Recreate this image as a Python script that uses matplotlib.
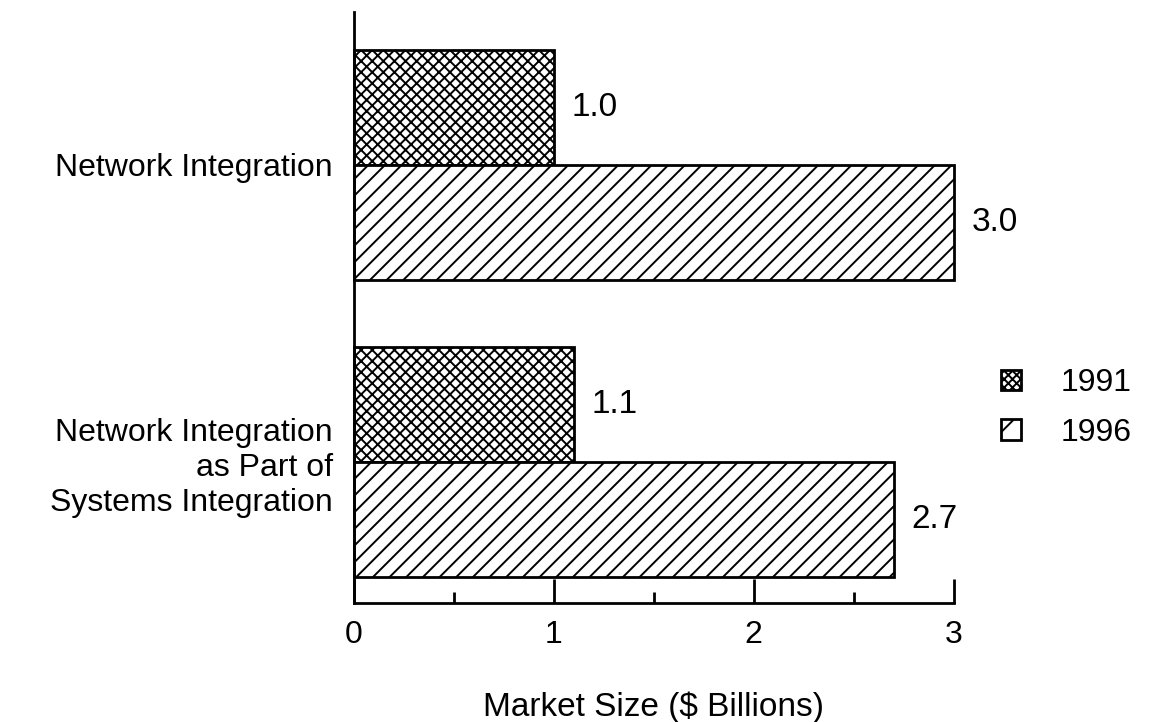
import matplotlib
matplotlib.use("Agg")
import matplotlib.pyplot as plt
from matplotlib.patches import Patch
from matplotlib.ticker import MultipleLocator

# data
categories = ["Network Integration",
              "Network Integration\nas Part of\nSystems Integration"]
years = ["1991", "1996"]
values_1991 = [1.0, 1.1]
values_1996 = [3.0, 2.7]

plt.rcParams['font.family'] = ['Liberation Sans', 'DejaVu Sans']
plt.rcParams['hatch.linewidth'] = 1.4

fig = plt.figure(figsize=(11.49, 7.22), dpi=100)
ax = fig.add_axes([0.308, 0.165, 0.522, 0.818])

pos = [1, 0]  # first category on top
h = 0.386
ax.barh([p + h / 2 for p in pos], values_1991, height=h, color='white',
        edgecolor='black', linewidth=2, hatch='xxx', clip_on=False)
ax.barh([p - h / 2 for p in pos], values_1996, height=h, color='white',
        edgecolor='black', linewidth=2, hatch='//', clip_on=False)

for p, v in zip(pos, values_1991):
    ax.text(v + 0.09, p + h / 2, f"{v:.1f}", va='center', ha='left', fontsize=24)
for p, v in zip(pos, values_1996):
    ax.text(v + 0.09, p - h / 2, f"{v:.1f}", va='center', ha='left', fontsize=24)

ax.set_xlim(0, 3)
ax.set_ylim(-0.473, 1.513)
ax.set_yticks(pos)
ax.set_yticklabels(categories, fontsize=23, linespacing=1.2)
ax.tick_params(axis='y', length=0, pad=15)

ax.xaxis.set_major_locator(MultipleLocator(1))
ax.xaxis.set_minor_locator(MultipleLocator(0.5))
ax.tick_params(axis='x', which='major', direction='in', length=17, width=2,
               labelsize=23, pad=12)
ax.tick_params(axis='x', which='minor', direction='in', length=8, width=2)
ax.set_xlabel("Market Size ($ Billions)", fontsize=24, labelpad=30)

for s in ['top', 'right']:
    ax.spines[s].set_visible(False)
for s in ['left', 'bottom']:
    ax.spines[s].set_linewidth(2)

handles = [Patch(facecolor='white', edgecolor='black', hatch='xxxx', linewidth=2),
           Patch(facecolor='white', edgecolor='black', hatch='/', linewidth=2)]
fig.legend(handles, years, loc='center left', bbox_to_anchor=(0.852, 0.435),
           frameon=False, fontsize=23, handlelength=0.62, handleheight=0.62,
           handletextpad=1.25, labelspacing=0.6, borderpad=0.2)

fig.savefig("out.png", dpi=100)
